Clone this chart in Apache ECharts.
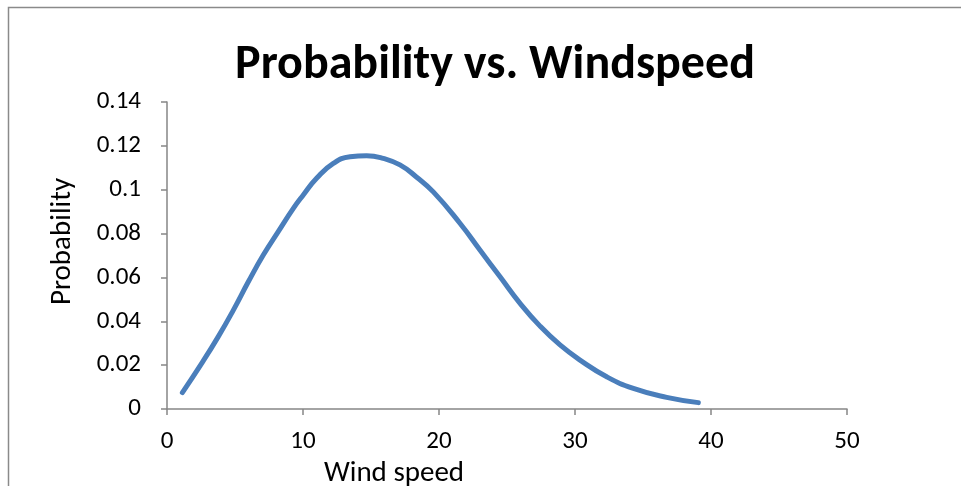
<!DOCTYPE html>
<html><head><meta charset="utf-8">
<script src="https://cdn.jsdelivr.net/npm/echarts@6/dist/echarts.min.js"></script>
<style>html,body{margin:0;padding:0;background:#fff}#c{width:961px;height:486px}</style>
</head><body><div id="c"></div>
<script>
var windSpeed = [1.13, 2.55, 3.77, 4.88, 5.98, 7.08, 8.18, 9.29, 10.02, 11.0, 12.23, 13.46, 14.68, 15.9, 17.13, 18.36, 19.58, 21.54, 23.01, 24.49, 25.96, 27.43, 28.9, 30.37, 32.33, 34.29, 36.74, 39.07];
var probability = [0.0075, 0.0208, 0.0330, 0.0451, 0.0580, 0.0702, 0.0809, 0.0915, 0.0976, 0.1052, 0.1120, 0.1150, 0.1155, 0.1143, 0.1113, 0.1057, 0.0990, 0.0847, 0.0725, 0.0603, 0.0482, 0.0378, 0.0292, 0.0223, 0.0147, 0.0094, 0.0053, 0.0029];
var titleText = 'Probability vs. Windspeed';
var xName = 'Wind speed';
var yName = 'Probability';

var pts = windSpeed.map(function (x, i) { return [x, probability[i]]; });
var font = 'Carlito, Lato, "Open Sans", sans-serif';
var chart = echarts.init(document.getElementById('c'));
chart.setOption({
  animation: false,
  backgroundColor: '#fff',
  graphic: [{ type: 'rect', shape: { x: 8.5, y: 7.5, width: 1000, height: 1000 }, style: { fill: 'none', stroke: '#8a8a8a', lineWidth: 1.5 } }],
  title: { text: titleText, left: 490, textAlign: 'center', top: 37, textStyle: { fontFamily: font, fontWeight: 'bold', fontSize: 48, color: '#000' } },
  grid: { left: 167, right: 114, top: 102, bottom: 77, containLabel: false, outerBoundsMode: 'none' },
  xAxis: {
    type: 'value', min: 0, max: 50, interval: 10,
    name: xName, nameLocation: 'middle', nameGap: 47,
    nameTextStyle: { fontFamily: font, fontSize: 29, color: '#000', padding: [0, 226, 0, 0] },
    axisLine: { lineStyle: { color: '#868686', width: 1.5 } },
    axisTick: { show: true, length: 6, lineStyle: { color: '#868686', width: 1.5 } },
    axisLabel: { fontFamily: font, fontSize: 25, color: '#000', margin: 20 },
    splitLine: { show: false }
  },
  yAxis: {
    type: 'value', min: 0, max: 0.14, interval: 0.02,
    name: yName, nameLocation: 'middle', nameGap: 90, nameRotate: 90,
    nameTextStyle: { fontFamily: font, fontSize: 29, color: '#000', padding: [0, 0, 0, 28] },
    axisLine: { show: true, lineStyle: { color: '#868686', width: 1.5 } },
    axisTick: { show: true, length: 6, lineStyle: { color: '#868686', width: 1.5 } },
    axisLabel: { fontFamily: font, fontSize: 25, color: '#000', margin: 26,
      formatter: function (v) { return v === 0 ? '0' : String(+v.toFixed(2)); } },
    splitLine: { show: false }
  },
  series: [{
    type: 'line', data: pts, smooth: 0.5, showSymbol: false,
    lineStyle: { color: '#4a7ebb', width: 5, cap: 'round' }
  }]
});
</script></body></html>
